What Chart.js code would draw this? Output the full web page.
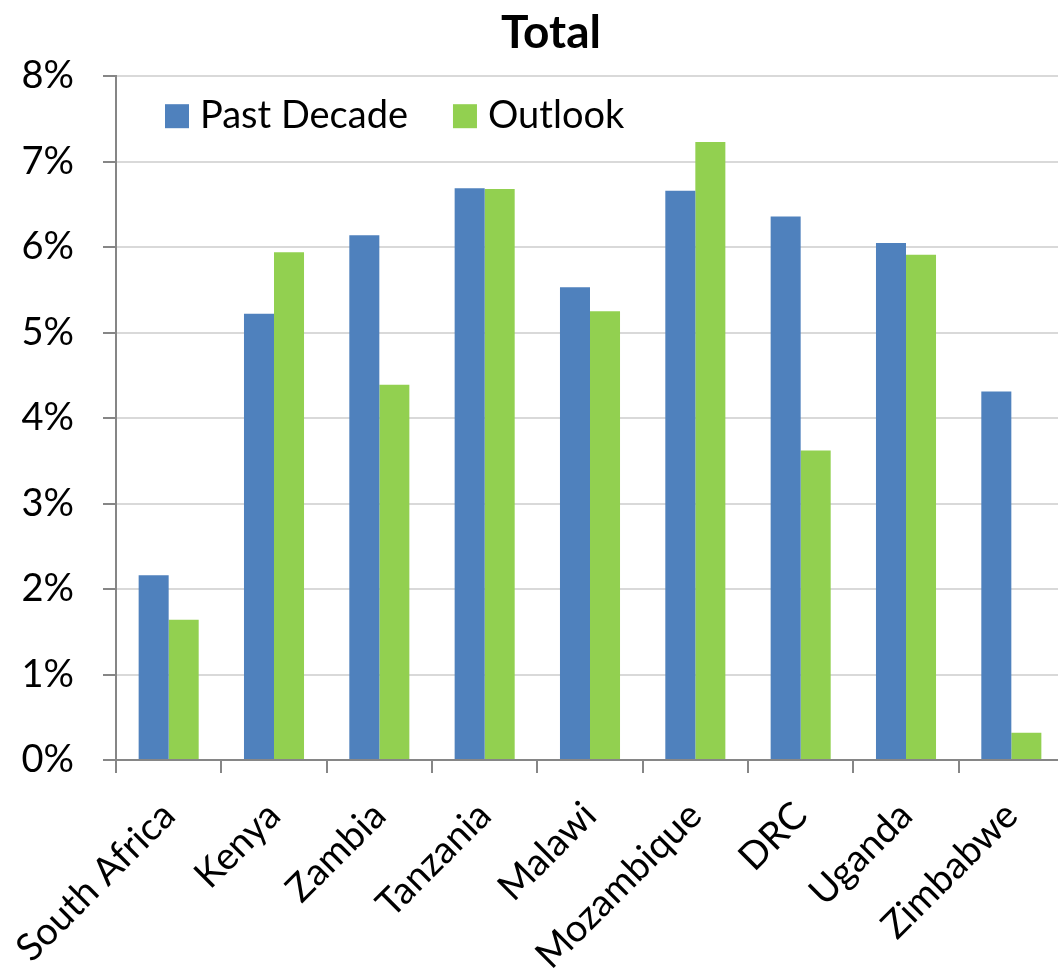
<!DOCTYPE html>
<html>
<head>
<meta charset="utf-8">
<title>Total</title>
<script src="https://cdn.jsdelivr.net/npm/chart.js@4"></script>
<style>
  html, body { margin: 0; padding: 0; overflow: hidden; background: #fff; }
</style>
</head>
<body>
<canvas id="totalChart" width="1102" height="976"></canvas>
<script>
// data (percent)
var countries = ['South Africa', 'Kenya', 'Zambia', 'Tanzania', 'Malawi', 'Mozambique', 'DRC', 'Uganda', 'Zimbabwe'];
var pastDecade = [2.16, 5.22, 6.14, 6.69, 5.53, 6.66, 6.36, 6.05, 4.31];
var outlook = [1.64, 5.94, 4.39, 6.68, 5.25, 7.23, 3.62, 5.91, 0.32];
var yMin = 0;
var yMax = 8;
var yStep = 1;

Chart.defaults.font.family = 'Lato, sans-serif';
Chart.defaults.color = '#000';

// one-row legend drawn inside the plot (chart.js 'chartArea' legend stacks vertically)
var legendInside = {
    id: 'legendInside',
    afterDraw: function (chart) {
        var c = chart.ctx;
        var area = chart.chartArea;
        var x = area.left + 49;
        var y = area.top + 40;
        c.save();
        c.font = '38px Lato, sans-serif';
        c.textBaseline = 'middle';
        c.textAlign = 'left';
        chart.data.datasets.forEach(function (ds) {
            c.fillStyle = ds.backgroundColor;
            c.fillRect(x, y - 12, 24, 24);
            x += 24 + 11;
            c.fillStyle = '#000';
            c.fillText(ds.label, x, y);
            x += c.measureText(ds.label).width + 45;
        });
        c.restore();
    }
};

var ctx = document.getElementById('totalChart');
var totalChart = new Chart(ctx, {
    type: 'bar',
    data: {
        labels: countries,
        datasets: [{
            label: 'Past Decade',
            data: pastDecade,
            backgroundColor: '#4F81BD',
            borderWidth: 0,
            categoryPercentage: 0.57,
            barPercentage: 1.0
        }, {
            label: 'Outlook',
            data: outlook,
            backgroundColor: '#92D050',
            borderWidth: 0,
            categoryPercentage: 0.57,
            barPercentage: 1.0
        }]
    },
    options: {
        responsive: false,
        animation: false,
        layout: { padding: 0 },
        plugins: {
            title: {
                display: true,
                text: 'Total',
                color: '#000',
                font: { size: 46, weight: 'bold' },
                padding: { top: 6, bottom: 15 }
            },
            legend: { display: false },
            tooltip: { enabled: false }
        },
        scales: {
            x: {
                ticks: {
                    autoSkip: false,
                    maxRotation: 45,
                    minRotation: 45,
                    padding: 20,
                    color: '#000',
                    font: { size: 38 }
                },
                grid: {
                    drawOnChartArea: false,
                    tickLength: 13,
                    color: '#868686',
                    lineWidth: 2
                },
                border: { color: '#868686', width: 2 },
                afterFit: function (scale) {
                    scale.height = 216;
                    scale.paddingLeft = 0;
                    scale.paddingRight = 0;
                }
            },
            y: {
                min: yMin,
                max: yMax,
                ticks: {
                    stepSize: yStep,
                    padding: 29,
                    color: '#000',
                    font: { size: 38 },
                    callback: function (v) { return v + '%'; }
                },
                grid: {
                    color: '#d9d9d9',
                    lineWidth: 2,
                    tickLength: 13,
                    tickColor: '#868686',
                    tickWidth: 2
                },
                border: { color: '#868686', width: 2 },
                afterFit: function (scale) { scale.width = 116; }
            },
            // empty right axis: the original plot runs past the picture's right edge
            yRight: {
                type: 'linear',
                position: 'right',
                grid: { display: false, drawTicks: false },
                border: { display: false },
                ticks: { display: false },
                afterFit: function (scale) { scale.width = 38; }
            }
        }
    },
    plugins: [legendInside]
});
</script>
</body>
</html>
